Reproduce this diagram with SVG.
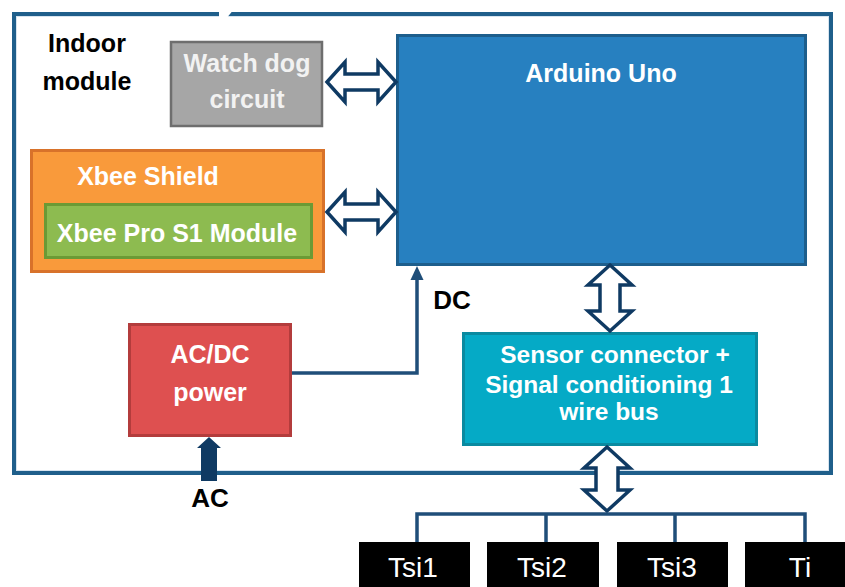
<svg xmlns="http://www.w3.org/2000/svg" width="845" height="587" viewBox="0 0 845 587">
<style>
text{font-family:"Liberation Sans",Arial,sans-serif;font-weight:bold;text-anchor:middle}
.w{fill:#ffffff}
.lbl{fill:#000000}
.dbl{fill:#ffffff;stroke:#0f3a63;stroke-width:3.5;stroke-linejoin:miter}
.wire{fill:none;stroke:#1f4e79;stroke-width:3.5}
.tsi{fill:#000000}
.tsit{font-weight:normal;font-size:28px;fill:#ffffff}
</style>
<rect width="845" height="587" fill="#ffffff"/>
<g id="frame">
<rect x="14" y="14" width="817" height="459" fill="none" stroke="#1f5f8b" stroke-width="4"/>
<rect x="16.5" y="16.5" width="812" height="454" fill="none" stroke="#d7e4ef" stroke-width="1"/>
<polygon points="219,9 234,9 226,19 219,19" fill="#ffffff"/>
<text class="lbl" x="87" y="52" font-size="25">Indoor</text>
<text class="lbl" x="87" y="90" font-size="25">module</text>
</g>
<g id="watchdog">
<rect x="171" y="42" width="151" height="84" fill="#a6a6a6" stroke="#6e6e6e" stroke-width="2.5"/>
<text x="247" y="72" font-size="25" fill="#f2f2f2">Watch dog</text>
<text x="247" y="108" font-size="25" fill="#f2f2f2">circuit</text>
</g>
<g id="arduino">
<rect x="397.5" y="35.5" width="408" height="229" fill="#2780c0" stroke="#1d5e8c" stroke-width="3"/>
<text class="w" x="601" y="82" font-size="25">Arduino Uno</text>
</g>
<g id="xbee-shield">
<rect x="31.5" y="150.5" width="292" height="121" fill="#f99a3b" stroke="#d8722a" stroke-width="3"/>
<text class="w" x="148" y="185" font-size="25">Xbee Shield</text>
</g>
<g id="xbee-pro">
<rect x="45.5" y="204.5" width="266" height="53" fill="#8dbb50" stroke="#6b9a35" stroke-width="3"/>
<text class="w" x="177" y="242" font-size="25">Xbee Pro S1 Module</text>
</g>
<g id="acdc">
<rect x="129.5" y="324.5" width="161" height="111" fill="#de5050" stroke="#b33c3c" stroke-width="3"/>
<text class="w" x="210" y="363" font-size="25">AC/DC</text>
<text class="w" x="210" y="401" font-size="25">power</text>
</g>
<g id="sensor">
<rect x="463.5" y="333.5" width="293" height="111" fill="#05aac6" stroke="#0a8aa0" stroke-width="3"/>
<text class="w" x="615" y="363" font-size="24.5">Sensor connector +</text>
<text class="w" x="609" y="393" font-size="24.5">Signal conditioning 1</text>
<text class="w" x="609" y="420" font-size="24.5">wire bus</text>
</g>
<g id="tsi1"><rect class="tsi" x="359" y="542" width="111" height="50"/><text class="tsit" x="413" y="577">Tsi1</text></g>
<g id="tsi2"><rect class="tsi" x="487" y="542" width="112" height="50"/><text class="tsit" x="542" y="577">Tsi2</text></g>
<g id="tsi3"><rect class="tsi" x="617" y="542" width="111" height="50"/><text class="tsit" x="672" y="577">Tsi3</text></g>
<g id="ti"><rect class="tsi" x="745" y="542" width="105" height="50"/><text class="tsit" x="800" y="577">Ti</text></g>
<g id="connectors">
<path class="dbl" d="M327,82 L345,62 L345,74 L378,74 L378,62 L396,82 L378,102 L378,90 L345,90 L345,102 Z"/>
<path class="dbl" d="M327,212 L345,192 L345,204 L378,204 L378,192 L396,212 L378,232 L378,220 L345,220 L345,232 Z"/>
<path class="dbl" d="M610,265 L632,285 L620,285 L620,311 L632,311 L610,331 L588,311 L600,311 L600,285 L588,285 Z"/>
<path class="dbl" d="M607,447 L630,468 L618,468 L618,490 L630,490 L607,511 L584,490 L596,490 L596,468 L584,468 Z"/>
<path class="wire" d="M417,542 L417,514 L805,514 L805,542 M546,514 L546,542 M675,514 L675,542"/>
<path class="wire" d="M292,373 L417,373 L417,276"/>
<polygon points="410.5,280 417,266 423.5,280" fill="#1f4e79"/>
<path d="M201,481 L201,448 L197,448 L209,437 L221,448 L217,448 L217,481 Z" fill="#0f3a63"/>
<text class="lbl" x="452" y="309" font-size="26">DC</text>
<text class="lbl" x="210" y="507" font-size="26">AC</text>
</g>
</svg>
